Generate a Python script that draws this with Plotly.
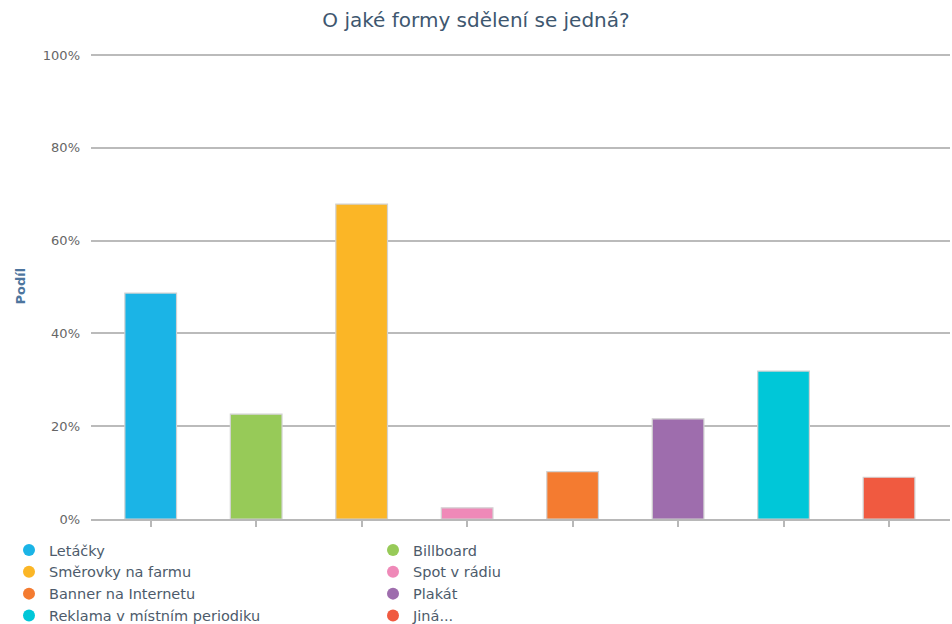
import plotly.graph_objects as go

categories = ["Letáčky", "Billboard", "Směrovky na farmu", "Spot v rádiu",
              "Banner na Internetu", "Plakát", "Reklama v místním periodiku", "Jiná..."]
values = [48.7, 22.6, 67.9, 2.4, 10.2, 21.6, 31.9, 9.0]
colors = ["#1bb4e6", "#97ca58", "#fbb626", "#ef89b8", "#f47b30", "#9e6dad", "#00c7d8", "#f05a40"]
y_ticks = [0, 20, 40, 60, 80, 100]
y_tick_labels = [f"{v}%" for v in y_ticks]

FONT = "DejaVu Sans"
fig = go.Figure()

fig.add_trace(go.Bar(
    x=categories, y=values, width=0.49,
    marker=dict(color=colors, line=dict(color="#d2d2d2", width=1.2)),
    showlegend=False, hoverinfo="x+y",
))
for c, col in zip(categories, colors):
    fig.add_trace(go.Scatter(
        x=[None], y=[None], mode="markers", name=c,
        marker=dict(color=col, size=12, symbol="circle"),
    ))

fig.update_layout(
    width=952, height=624,
    margin=dict(l=91, r=2, t=54, b=105, autoexpand=False),
    plot_bgcolor="white", paper_bgcolor="white",
    font=dict(family=FONT, color="#4d5b6b"),
    title=dict(text="O jaké formy sdělení se jedná?", x=0.5, xref="container",
               y=1 - 20 / 624, yref="container", yanchor="middle", xanchor="center",
               font=dict(family=FONT, size=20, color="#3e576f")),
    xaxis=dict(range=[-0.566, 7.578], showticklabels=False, ticks="outside",
               ticklen=6, tickcolor="#b8b8b8", tickwidth=1.5, showgrid=False,
               showline=True, linecolor="#b8b8b8", linewidth=2, zeroline=False,
               fixedrange=True),
    yaxis=dict(range=[0, 100.25], tickvals=y_ticks, ticktext=y_tick_labels, showgrid=True,
               gridcolor="#bbbbbb", gridwidth=2, zeroline=False, showline=False,
               ticklabelstandoff=10,
               tickfont=dict(family=FONT, size=13, color="#666666"), fixedrange=True),
    legend=dict(orientation="h", xref="container", x=9 / 952, y=1 - 534 / 624,
                yref="container", xanchor="left", yanchor="top",
                entrywidth=319, entrywidthmode="pixels",
                font=dict(family=FONT, size=14.5, color="#4d5b6b"),
                itemclick=False, itemdoubleclick=False, traceorder="normal"),
    annotations=[dict(text="<b>Podíl</b>", x=(20 - 91) / 859, y=0.5, xref="paper", yref="paper",
                      textangle=-90, showarrow=False, xanchor="center", yanchor="middle",
                      font=dict(family=FONT, size=13, color="#4d759e"))],
)

fig.write_html("out.html", config={"displayModeBar": False},
               post_script="document.body.style.margin='0';")
